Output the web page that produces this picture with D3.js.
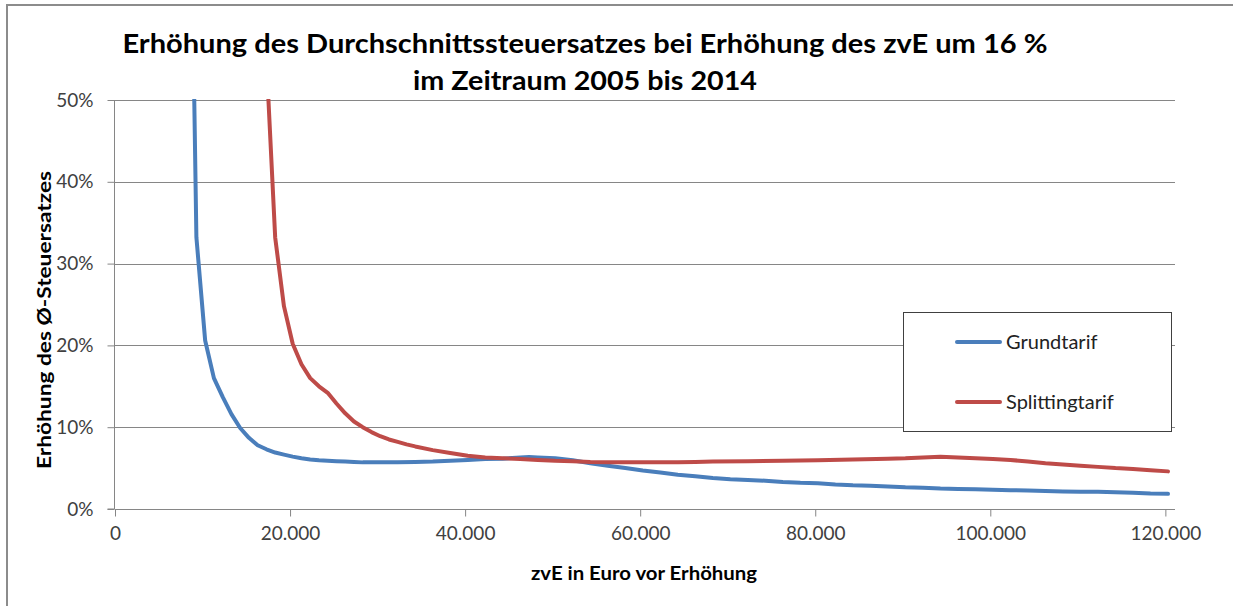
<!DOCTYPE html>
<html><head><meta charset="utf-8">
<script src="https://cdn.jsdelivr.net/npm/d3@7"></script>
<style>
html,body{margin:0;padding:0;background:#fff;}
svg{display:block;font-family:Lato,"Open Sans",sans-serif;}
</style></head>
<body>
<svg id="chart" width="1233" height="606"></svg>
<script>
// ---- Data ----
const titleLines = ["Erhöhung des Durchschnittssteuersatzes bei Erhöhung des zvE um 16 %", "im Zeitraum 2005 bis 2014"];
const xAxisTitle = "zvE in Euro vor Erhöhung";
const yAxisTitle = "Erhöhung des Ø-Steuersatzes";
const seriesNames = ["Grundtarif", "Splittingtarif"];
const xTicks = [0, 20000, 40000, 60000, 80000, 100000, 120000];
const xTickLabels = ["0", "20.000", "40.000", "60.000", "80.000", "100.000", "120.000"];
const yTicks = [0, 0.1, 0.2, 0.3, 0.4, 0.5];
const yTickLabels = ["0%", "10%", "20%", "30%", "40%", "50%"];

// Grundtarif: zvE and increase of average tax rate (%)
const grundX = [8300, 9300, 10300, 11300, 12300, 13300, 14300, 15300, 16300, 17300, 18300, 19300, 20300, 21300, 22300, 23300, 24300, 25300, 26300, 27300, 28300, 30300, 32300, 34300, 36300, 38300, 40300, 42300, 44300, 46300, 47300, 48300, 50300, 52300, 54300, 56300, 58300, 60300, 62300, 64300, 66300, 68300, 70300, 72300, 74300, 76300, 78300, 80300, 82300, 84300, 86300, 88300, 90300, 92300, 94300, 96300, 98300, 100300, 102300, 104300, 106300, 108300, 110300, 112300, 114300, 116300, 118300, 120300];
const grundY = [102, 33.2, 20.6, 16.0, 13.7, 11.6, 9.9, 8.7, 7.8, 7.3, 6.9, 6.65, 6.4, 6.2, 6.05, 5.95, 5.9, 5.85, 5.8, 5.75, 5.7, 5.7, 5.7, 5.75, 5.8, 5.9, 6.0, 6.1, 6.15, 6.3, 6.35, 6.3, 6.2, 5.95, 5.6, 5.3, 5.0, 4.7, 4.45, 4.2, 4.0, 3.8, 3.65, 3.55, 3.45, 3.3, 3.2, 3.15, 3.0, 2.9, 2.85, 2.75, 2.65, 2.6, 2.5, 2.45, 2.4, 2.35, 2.3, 2.25, 2.2, 2.15, 2.1, 2.1, 2.05, 2.0, 1.9, 1.85];

// Splittingtarif
const splitX = [17300, 18300, 19300, 20300, 21300, 22300, 23300, 24300, 25300, 26300, 27300, 28300, 29300, 30300, 31300, 32300, 33300, 34300, 36300, 38300, 40300, 42300, 44300, 46300, 48300, 50300, 52300, 54300, 56300, 60300, 64300, 66300, 68300, 72300, 76300, 80300, 84300, 88300, 90300, 92300, 94300, 96300, 98300, 100300, 102300, 104300, 106300, 108300, 110300, 112300, 114300, 116300, 118300, 120300];
const splitY = [55, 33.2, 24.8, 20.2, 17.7, 16.0, 15.0, 14.2, 12.9, 11.7, 10.7, 10.0, 9.4, 8.9, 8.5, 8.2, 7.9, 7.65, 7.2, 6.85, 6.5, 6.3, 6.2, 6.1, 6.0, 5.9, 5.85, 5.75, 5.7, 5.7, 5.7, 5.75, 5.8, 5.85, 5.9, 5.95, 6.05, 6.15, 6.2, 6.3, 6.4, 6.3, 6.2, 6.1, 6.0, 5.8, 5.6, 5.45, 5.3, 5.15, 5.0, 4.9, 4.75, 4.6];

const colors = ["#4a7ebb", "#be4b48"];

// ---- Layout ----
const svg = d3.select("#chart");
const plot = {left: 115, right: 1175, top: 100, bottom: 509};
const x = d3.scaleLinear().domain([0, 121100]).range([plot.left, plot.right]);
const y = d3.scaleLinear().domain([0, 0.5]).range([plot.bottom, plot.top]);
const gridColor = "#868686";
const textColor = "#404040";

// outer border
svg.append("rect").attr("x", 7).attr("y", 5).attr("width", 1300).attr("height", 700)
  .attr("fill", "none").attr("stroke", "#8c8c8c").attr("stroke-width", 2);

// title
svg.append("text").attr("x", 585).attr("y", 53).attr("text-anchor", "middle")
  .attr("font-weight", "bold").attr("font-size", 26).attr("fill", "#000")
  .attr("textLength", 925).attr("lengthAdjust", "spacingAndGlyphs").text(titleLines[0]);
svg.append("text").attr("x", 585).attr("y", 90).attr("text-anchor", "middle")
  .attr("font-weight", "bold").attr("font-size", 26).attr("fill", "#000")
  .attr("textLength", 344).attr("lengthAdjust", "spacingAndGlyphs").text(titleLines[1]);

// gridlines
svg.append("g").selectAll("line").data(yTicks.slice(1)).join("line")
  .attr("x1", plot.left).attr("x2", plot.right)
  .attr("y1", d => Math.round(y(d)) + 0.5).attr("y2", d => Math.round(y(d)) + 0.5)
  .attr("stroke", gridColor).attr("stroke-width", 1);

// y axis
const yAxis = d3.axisLeft(y).tickValues(yTicks).tickFormat((d, i) => yTickLabels[i]).tickSize(7).tickPadding(14);
const gy = svg.append("g").attr("transform", `translate(${plot.left - 0.5},0)`).call(yAxis);
gy.select(".domain").attr("stroke", gridColor).attr("d", `M-7,${plot.bottom}H0V${plot.top}`);
gy.selectAll(".tick line").attr("stroke", gridColor);
gy.selectAll(".tick text").attr("font-size", 19).attr("fill", textColor).attr("font-family", "Lato, sans-serif");

// x axis
const xAxis = d3.axisBottom(x).tickValues(xTicks).tickFormat((d, i) => xTickLabels[i]).tickSize(7).tickPadding(10);
const gx = svg.append("g").attr("transform", `translate(0,${plot.bottom + 0.5})`).call(xAxis);
gx.select(".domain").attr("stroke", gridColor).attr("d", `M${plot.left},0H${plot.right}`);
gx.selectAll(".tick line").attr("stroke", gridColor);
gx.selectAll(".tick text").attr("font-size", 19).attr("fill", textColor).attr("font-family", "Lato, sans-serif");

// axis titles
svg.append("text").attr("x", 644).attr("y", 580).attr("text-anchor", "middle")
  .attr("font-weight", "bold").attr("font-size", 19).attr("fill", "#000")
  .attr("textLength", 226).attr("lengthAdjust", "spacingAndGlyphs").text(xAxisTitle);
svg.append("text").attr("transform", "translate(51,320) rotate(-90)").attr("text-anchor", "middle")
  .attr("font-weight", "bold").attr("font-size", 19).attr("fill", "#000")
  .attr("textLength", 298).attr("lengthAdjust", "spacingAndGlyphs").text(yAxisTitle);

// clip
svg.append("clipPath").attr("id", "clip").append("rect")
  .attr("x", plot.left).attr("y", plot.top - 1).attr("width", plot.right - plot.left).attr("height", plot.bottom - plot.top + 4);

const line = d3.line().x(d => x(d[0])).y(d => y(d[1] / 100)).curve(d3.curveMonotoneX);
const series = [
  grundX.map((v, i) => [v, grundY[i]]),
  splitX.map((v, i) => [v, splitY[i]])
];
svg.append("g").attr("clip-path", "url(#clip)").selectAll("path").data(series).join("path")
  .attr("d", d => d3.line().x(p => x(p[0])).y(p => y(p[1] / 100))(d))
  .attr("fill", "none").attr("stroke", (d, i) => colors[i])
  .attr("stroke-width", 4).attr("stroke-linejoin", "round").attr("stroke-linecap", "round");

// legend
const lg = svg.append("g");
lg.append("rect").attr("x", 903.5).attr("y", 312.5).attr("width", 268).attr("height", 119)
  .attr("fill", "#fff").attr("stroke", "#404040").attr("stroke-width", 1);
const legY = [342, 402];
seriesNames.forEach((n, i) => {
  lg.append("line").attr("x1", 957).attr("x2", 1000).attr("y1", legY[i]).attr("y2", legY[i])
    .attr("stroke", colors[i]).attr("stroke-width", 4).attr("stroke-linecap", "round");
  lg.append("text").attr("x", 1006).attr("y", legY[i] + 7).attr("font-size", 20).attr("fill", "#222").text(n);
});
</script>
</body></html>
